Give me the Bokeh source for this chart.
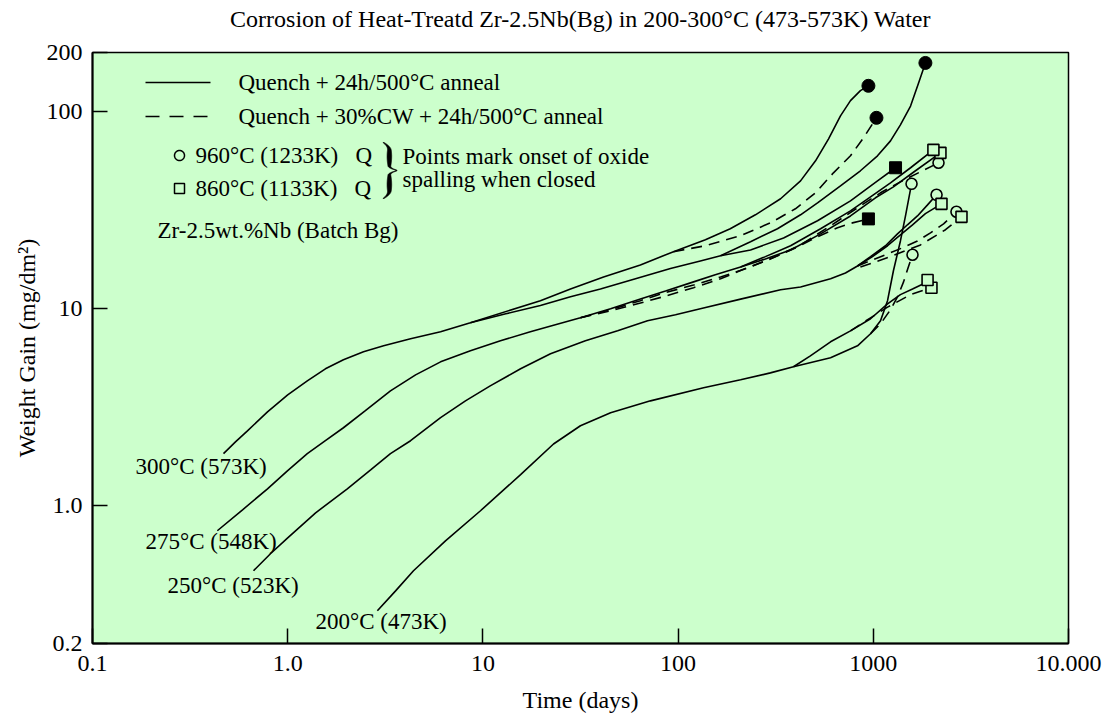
import numpy as np
from bokeh.plotting import figure
from bokeh.models import FixedTicker, Label, Arrow, PolyAnnotation, Range1d, LogAxis
from bokeh.embed import file_html
from bokeh.resources import INLINE

FONT = "Liberation Serif"
BG = "#ccffcc"

# ---------------- data: time (days) vs weight gain (mg/dm2) ----------------
# 300 C family
c300_q_x = [0.469, 0.540, 0.622, 0.788, 1.0, 1.26, 1.56, 1.93, 2.445, 3.10, 4.26, 6.07, 8.63,
            19.7, 28.1, 41.5, 64.1, 94.7, 138, 185, 249, 335, 424, 506, 590, 679, 764, 859, 944]
c300_q_y = [1.84, 2.11, 2.40, 3.00, 3.66, 4.31, 4.96, 5.51, 6.05, 6.49, 7.04, 7.64, 8.49,
            11.0, 12.6, 14.5, 16.7, 19.5, 22.4, 25.5, 30.0, 36.2, 44.6, 56.4, 72.9, 95.4, 114, 128, 135.5]
c300_cw_x = [94.7, 138, 209, 297, 399, 506, 625, 764, 891, 1038]
c300_cw_y = [19.5, 20.9, 23.5, 27.3, 32.2, 38.8, 49.0, 59.8, 73.8, 93.2]
c300_q2_x = [8.63, 13.1, 19.7, 28.1, 40.0, 60.5, 91.4, 130, 165, 235, 347, 518, 764, 1051, 1300]
c300_q2_y = [8.49, 9.43, 10.4, 11.5, 12.6, 14.2, 16.0, 17.5, 18.6, 19.9, 22.9, 28.0, 35.3, 44.6, 52.0]
c300_q3_x = [165, 235, 323, 424, 518, 679, 859, 1051, 1225, 1377, 1552, 1706, 1849]
c300_q3_y = [18.6, 21.9, 25.5, 30.0, 34.5, 42.1, 50.2, 59.8, 71.2, 85.9, 107, 140, 177]

# 275 C family
c275_q_x = [0.436, 0.587, 0.788, 1.0, 1.26, 1.56, 1.93, 2.50, 3.36, 4.52, 6.07, 8.63, 12.3, 17.5, 23.5, 31.6,
            45.1, 64.1, 86.2, 120, 155, 209, 280, 377, 537, 764, 968, 1225, 1552, 2032]
c275_q_y = [0.747, 0.954, 1.22, 1.51, 1.84, 2.14, 2.49, 3.04, 3.83, 4.62, 5.38, 6.12, 6.88, 7.64, 8.29, 9.00,
            10.0, 11.2, 12.3, 13.7, 14.9, 16.3, 18.4, 20.9, 25.5, 31.4, 37.0, 43.6, 52.0, 64.1]
c275_q2_x = [209, 280, 377, 537, 764, 1026, 1268, 1645, 2208]
c275_q2_y = [16.3, 17.9, 19.9, 24.0, 29.6, 36.6, 41.6, 50.2, 61.9]
c275_cw_x = [31.6, 45.1, 64.1, 86.2, 120, 165, 235, 315, 424, 604, 859, 1089, 1377, 1745, 2158]
c275_cw_y = [9.00, 9.89, 11.0, 12.1, 13.2, 14.5, 16.3, 18.4, 21.1, 26.4, 33.3, 38.8, 44.1, 49.6, 55.1]
c275_cw2_x = [31.6, 45.1, 64.1, 86.2, 120, 165, 221, 297, 409, 518, 656, 782, 944]
c275_cw2_y = [9.00, 9.77, 10.7, 11.6, 12.8, 14.2, 16.0, 17.9, 20.6, 23.2, 25.8, 27.3, 28.6]

# 250 C family
c250_q_x = [0.668, 0.816, 1.0, 1.39, 2.02, 2.66, 3.36, 4.26, 6.07, 8.14, 10.9, 15.6, 22.2, 33.5, 49.0, 69.7,
            97.0, 130, 209, 335, 424, 604, 720, 830, 968, 1155, 1330, 1496, 1683, 1896, 2109]
c250_q_y = [0.468, 0.571, 0.688, 0.921, 1.22, 1.52, 1.84, 2.14, 2.80, 3.41, 4.06, 4.96, 5.91, 6.88, 7.73, 8.69,
            9.32, 10.0, 11.2, 12.5, 12.9, 14.2, 15.2, 16.5, 18.4, 20.9, 24.0, 26.7, 29.6, 33.7, 37.9]
c250_q2_x = [830, 990, 1183, 1377, 1588, 1849, 2235]
c250_q2_y = [16.5, 18.4, 20.9, 23.7, 26.7, 30.4, 34.1]
c250_cw_x = [830, 990, 1183, 1411, 1683, 1963, 2291, 2667]
c250_cw_y = [16.5, 17.7, 19.0, 20.4, 22.1, 24.3, 27.0, 31.1]
c250_cw2_x = [859, 1225, 1745, 2344, 2830]
c250_cw2_y = [16.3, 18.4, 21.1, 25.2, 29.3]

# 200 C family
c200_q_x = [2.88, 3.57, 4.41, 6.43, 9.72, 15.6, 23.0, 31.6, 45.1, 72.2, 135, 209, 297, 390, 604, 830,
            968, 1089, 1183, 1268, 1377, 1462, 1570]
c200_q_y = [0.293, 0.370, 0.468, 0.664, 0.944, 1.44, 2.06, 2.55, 2.97, 3.41, 3.97, 4.36, 4.73, 5.08, 5.64, 6.49,
            7.47, 8.69, 11.0, 15.6, 22.1, 29.6, 43.1]
c200_q2_x = [390, 476, 604, 764, 968, 1183, 1377, 1588, 1808, 1897]
c200_q2_y = [5.08, 5.77, 6.80, 7.73, 8.90, 10.6, 11.8, 12.6, 13.4, 13.9]
c200_cw_x = [968, 1089, 1225, 1330, 1429, 1496, 1588]
c200_cw_y = [7.47, 8.39, 9.89, 11.5, 13.7, 15.8, 18.8]
c200_cw2_x = [764, 968, 1183, 1552, 1986]
c200_cw2_y = [7.73, 9.00, 10.2, 11.8, 12.8]

# end-point markers
closed_circle_x = [944, 1038, 1849]
closed_circle_y = [135.5, 93.2, 177]
closed_square_x = [1300, 944]
closed_square_y = [52.0, 28.6]
open_circle_x = [2158, 1570, 2109, 2667, 1588]
open_circle_y = [55.1, 43.1, 37.9, 31.1, 18.8]
open_square_back_x = [2208, 1986]
open_square_back_y = [61.9, 12.8]
open_square_x = [2032, 2235, 2830, 1897]
open_square_y = [64.1, 34.1, 29.3, 14.0]

x_ticks = [0.1, 1, 10, 100, 1000, 10000]
x_tick_labels = ["0.1", "1.0", "10", "100", "1000", "10.000"]
y_ticks = [0.2, 1, 10, 100, 200]
y_tick_labels = ["0.2", "1.0", "10", "100", "200"]

TITLE = "Corrosion of Heat-Treatd Zr-2.5Nb(Bg) in 200-300\u00b0C (473-573K) Water"

# ---------------- figure ----------------
p = figure(width=1113, height=716, x_axis_type="log", y_axis_type="log",
           x_range=Range1d(0.1, 10000), y_range=Range1d(0.2, 200),
           output_backend="svg", toolbar_location=None,
           min_border_left=92, min_border_right=45, min_border_top=52, min_border_bottom=73,
           background_fill_color=BG, border_fill_color="white")

p.xgrid.grid_line_color = None
p.ygrid.grid_line_color = None
p.outline_line_color = "black"
p.outline_line_width = 1.5

p.xaxis.ticker = FixedTicker(ticks=x_ticks)
p.xaxis.major_label_overrides = {t: l for t, l in zip(x_ticks, x_tick_labels)}
p.yaxis.ticker = FixedTicker(ticks=y_ticks)
p.yaxis.major_label_overrides = {t: l for t, l in zip(y_ticks, y_tick_labels)}

p.xaxis.axis_label = "Time (days)"
p.yaxis.axis_label = "Weight Gain (mg/dm\u00b2)"

for ax in (p.xaxis[0], p.yaxis[0]):
    ax.major_tick_in = 15
    ax.major_tick_out = 0
    ax.minor_tick_line_color = None
    ax.axis_line_width = 2
    ax.axis_line_color = "black"
    ax.major_tick_line_width = 1.5
    ax.major_tick_line_color = "black"
    ax.major_label_text_font = FONT
    ax.major_label_text_font_size = "24px"
    ax.major_label_text_color = "black"
    ax.axis_label_text_font = FONT
    ax.axis_label_text_font_size = "24px"
    ax.axis_label_text_font_style = "normal"
    ax.axis_label_text_color = "black"

p.xaxis.major_label_standoff = 12
p.xaxis.axis_label_standoff = 13
p.yaxis.major_label_standoff = 10
p.yaxis.axis_label_standoff = 4

# chart title carried by a tick-less axis above the frame
title_axis = LogAxis(axis_label=TITLE, ticker=FixedTicker(ticks=[]),
                     axis_line_color=None, major_tick_line_color=None,
                     minor_tick_line_color=None, major_label_text_font_size="0px",
                     major_label_standoff=0, axis_label_standoff=21,
                     axis_label_text_font=FONT, axis_label_text_font_size="24px",
                     axis_label_text_font_style="normal", axis_label_text_color="black")
p.add_layout(title_axis, "above")

solid = dict(line_color="black", line_width=1.6)
dashed = dict(line_color="black", line_width=1.6, line_dash="11 7")

curves = [
    (c300_q_x, c300_q_y, solid), (c300_cw_x, c300_cw_y, dashed),
    (c300_q2_x, c300_q2_y, solid), (c300_q3_x, c300_q3_y, solid),
    (c275_q_x, c275_q_y, solid), (c275_q2_x, c275_q2_y, solid),
    (c275_cw_x, c275_cw_y, dashed), (c275_cw2_x, c275_cw2_y, dashed),
    (c250_q_x, c250_q_y, solid), (c250_q2_x, c250_q2_y, solid),
    (c250_cw_x, c250_cw_y, dashed), (c250_cw2_x, c250_cw2_y, dashed),
    (c200_q_x, c200_q_y, solid), (c200_q2_x, c200_q2_y, solid),
    (c200_cw_x, c200_cw_y, dashed), (c200_cw2_x, c200_cw2_y, dashed),
]
for xs, ys, st in curves:
    p.line(xs, ys, **st)

p.scatter(open_circle_x, open_circle_y, marker="circle", size=11,
          fill_color=BG, line_color="black", line_width=1.6)
p.scatter(open_square_back_x, open_square_back_y, marker="square", size=11,
          fill_color=BG, line_color="black", line_width=1.6)
p.scatter(open_square_x, open_square_y, marker="square", size=11,
          fill_color=BG, line_color="black", line_width=1.6)
p.scatter(closed_circle_x, closed_circle_y, marker="circle", size=13,
          fill_color="black", line_color="black")
p.scatter(closed_square_x, closed_square_y, marker="square", size=12,
          fill_color="black", line_color="black")

# ---------------- annotations (screen units, origin at frame bottom-left) ----------------
def add_text(x, y, text, size="23px", align="left"):
    p.add_layout(Label(x=x, y=y, x_units="screen", y_units="screen", text=text,
                       text_font=FONT, text_font_size=size, text_color="black",
                       text_baseline="middle", text_align=align))

# legend line samples
p.add_layout(Arrow(x_start=53, y_start=561, x_end=118, y_end=561,
                   start_units="screen", end_units="screen", end=None,
                   line_color="black", line_width=1.6))
p.add_layout(Arrow(x_start=53, y_start=527, x_end=118, y_end=527,
                   start_units="screen", end_units="screen", end=None,
                   line_color="black", line_width=1.6, line_dash="14 10"))
add_text(146, 561, "Quench + 24h/500\u00b0C anneal")
add_text(146, 527, "Quench + 30%CW + 24h/500\u00b0C anneal")

# legend markers
ang = np.linspace(0, 2 * np.pi, 41)
p.add_layout(PolyAnnotation(xs=list(87 + 5 * np.cos(ang)), ys=list(488 + 5 * np.sin(ang)),
                            xs_units="screen", ys_units="screen",
                            fill_color=None, line_color="black", line_alpha=1.0, line_width=1.5))
p.add_layout(PolyAnnotation(xs=[82, 92, 92, 82], ys=[450, 450, 460, 460],
                            xs_units="screen", ys_units="screen",
                            fill_color=None, line_color="black", line_alpha=1.0, line_width=1.5))
add_text(103, 488, "960\u00b0C (1233K)\u00a0\u00a0\u00a0Q")
add_text(103, 455, "860\u00b0C (1133K)\u00a0\u00a0\u00a0Q")

# brace
def brace(x0, ytop, w, h, n=90):
    s = np.linspace(0, 1, n)
    u = np.abs(2 * s - 1)
    a = 0.42 * w
    xc = a + (w - a) * np.clip(1 - u / 0.16, 0, 1) ** 2
    endc = np.clip((u - 0.72) / 0.28, 0, 1)
    xc = xc - a * endc ** 2
    th = 0.6 + 1.7 * np.sin(np.pi * u)
    ys = ytop - s * h
    xs = np.concatenate([x0 + xc - th, (x0 + xc + th)[::-1]])
    yy = np.concatenate([ys, ys[::-1]])
    return list(xs), list(yy)

bx, by = brace(291, 501, 14, 56)
p.add_layout(PolyAnnotation(xs=bx, ys=by, xs_units="screen", ys_units="screen",
                            fill_color="black", fill_alpha=1.0, line_color="black",
                            line_alpha=1.0, line_width=0.6))
add_text(310, 487, "Points mark onset of oxide")
add_text(310, 464, "spalling when closed")
add_text(65, 413, "Zr-2.5wt.%Nb (Batch Bg)")

# curve labels
add_text(43, 177, "300\u00b0C (573K)")
add_text(53, 102, "275\u00b0C (548K)")
add_text(75, 58, "250\u00b0C (523K)")
add_text(223, 22, "200\u00b0C (473K)")

open("out.html", "w").write(file_html(p, INLINE))
